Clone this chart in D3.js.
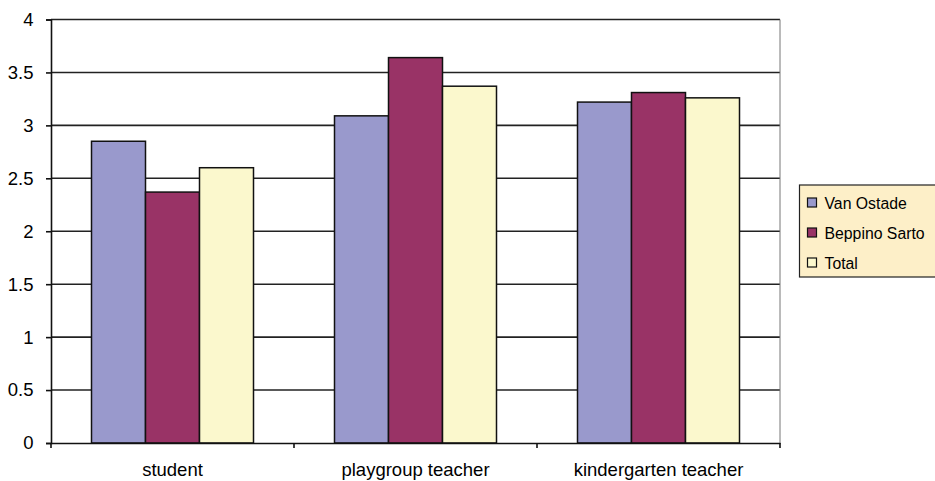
<!DOCTYPE html>
<html>
<head>
<meta charset="utf-8">
<script src="https://cdn.jsdelivr.net/npm/d3@7"></script>
<style>
  body { margin: 0; background: #fff; }
  text { font-family: Arial, "Liberation Sans", sans-serif; fill: #000; }
</style>
</head>
<body>
<svg id="chart" width="935" height="481"></svg>
<script>
// Categories and series
const categories = ["student", "playgroup teacher", "kindergarten teacher"];
const seriesNames = ["Van Ostade", "Beppino Sarto", "Total"];
const vanOstade = [2.85, 3.09, 3.22];
const beppinoSarto = [2.37, 3.64, 3.31];
const total = [2.60, 3.37, 3.26];
const yTicks = [0, 0.5, 1, 1.5, 2, 2.5, 3, 3.5, 4];
const colors = ["#9999cc", "#993366", "#fbf8cd"];

const seriesValues = [vanOstade, beppinoSarto, total];

const svg = d3.select("#chart");
const m = { left: 51, top: 19.5, right: 780, bottom: 443 };

const x = d3.scaleBand().domain(categories).range([m.left, m.right]).padding(0);
const groupInner = x.bandwidth() * (2 / 3);
const xs = d3.scaleBand().domain(seriesNames)
  .range([(x.bandwidth() - groupInner) / 2, (x.bandwidth() + groupInner) / 2]).padding(0);
const y = d3.scaleLinear().domain([0, 4]).range([m.bottom, m.top]);

// Horizontal gridlines
svg.append("g")
  .selectAll("line")
  .data(yTicks.filter(d => d > 0))
  .join("line")
  .attr("x1", m.left).attr("x2", m.right)
  .attr("y1", d => y(d)).attr("y2", d => y(d))
  .attr("stroke", "#222").attr("stroke-width", 1.6);

// Right border of plot area
svg.append("line")
  .attr("x1", m.right).attr("x2", m.right)
  .attr("y1", m.top).attr("y2", m.bottom)
  .attr("stroke", "#777").attr("stroke-width", 1);

// Bars
const rows = [];
categories.forEach((c, i) => {
  seriesNames.forEach((s, j) => rows.push({ c, s, v: seriesValues[j][i], j }));
});
svg.append("g")
  .selectAll("rect")
  .data(rows)
  .join("rect")
  .attr("x", d => x(d.c) + xs(d.s))
  .attr("y", d => y(d.v))
  .attr("width", xs.bandwidth())
  .attr("height", d => y(0) - y(d.v))
  .attr("fill", d => colors[d.j])
  .attr("stroke", "#111")
  .attr("stroke-width", 1.5);

// Y axis
const yAxis = svg.append("g")
  .attr("transform", `translate(${m.left},0)`)
  .call(d3.axisLeft(y).tickValues(yTicks).tickSize(5).tickPadding(12.5)
    .tickFormat(d => d3.format("")(d)));
yAxis.select(".domain").attr("stroke", "#111").attr("stroke-width", 1.6);
yAxis.selectAll(".tick line").attr("stroke", "#111").attr("stroke-width", 1.6);
yAxis.selectAll("text").attr("font-size", 18.5).style("font-family", "Arial, 'Liberation Sans', sans-serif");

// X axis
const xAxis = svg.append("g")
  .attr("transform", `translate(0,${m.bottom})`)
  .call(d3.axisBottom(x).tickSize(0).tickPadding(20));
xAxis.select(".domain").attr("stroke", "#111").attr("stroke-width", 1.6);
xAxis.selectAll("text").attr("font-size", 18.5).style("font-family", "Arial, 'Liberation Sans', sans-serif");

// Category boundary ticks
const bounds = categories.map(c => x(c)).concat([m.right]);
svg.append("g")
  .selectAll("line")
  .data(bounds)
  .join("line")
  .attr("x1", d => d).attr("x2", d => d)
  .attr("y1", m.bottom).attr("y2", m.bottom + 5)
  .attr("stroke", "#111").attr("stroke-width", 1.6);

// Legend
const lg = svg.append("g").attr("transform", "translate(799.5,185)");
lg.append("rect")
  .attr("width", 140).attr("height", 92)
  .attr("fill", "#fdefc8").attr("stroke", "#222").attr("stroke-width", 1.2);
seriesNames.forEach((s, i) => {
  const row = lg.append("g").attr("transform", `translate(8,${18 + i * 30})`);
  row.append("rect")
    .attr("x", 0).attr("y", -5).attr("width", 9).attr("height", 9)
    .attr("fill", colors[i]).attr("stroke", "#111").attr("stroke-width", 1.2);
  row.append("text")
    .attr("x", 17).attr("y", 5.5)
    .attr("font-size", 15.8)
    .text(s);
});
</script>
</body>
</html>
